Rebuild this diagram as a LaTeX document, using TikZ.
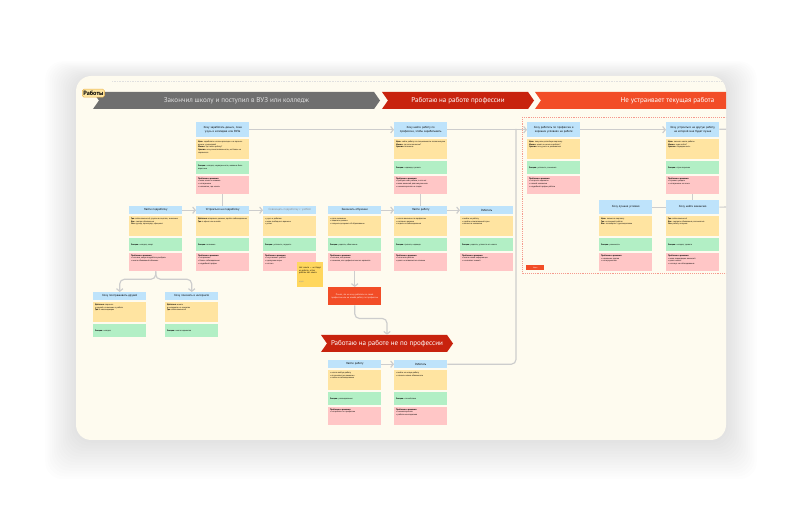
\documentclass[tikz,border=0pt]{standalone}
\usepackage{fontspec}
\setmainfont{PT Sans}
\usetikzlibrary{arrows.meta,positioning,shapes.symbols,calc}
\definecolor{jmCream}{HTML}{FEFBEF}
\definecolor{jmBlue}{HTML}{BEE3FB}
\definecolor{jmYellow}{HTML}{FFE4A1}
\definecolor{jmGreen}{HTML}{B2EFC5}
\definecolor{jmPink}{HTML}{FFC6C6}
\definecolor{jmLine}{HTML}{CDCDCD}
\definecolor{jmGray}{HTML}{6F6F6F}
\definecolor{jmRed}{HTML}{C8230E}
\definecolor{jmOrange}{HTML}{F24D27}
\definecolor{jmSticky}{HTML}{FFD75E}
\definecolor{jmTag}{HTML}{FFE7A3}
\definecolor{jmTagLine}{HTML}{E8B04A}
\definecolor{jmDash}{HTML}{F59A8E}
\tikzset{
  hdr/.style={fill=jmBlue, text width=42pt, inner xsep=1.6pt, inner ysep=0.6pt, align=center, font=\fontsize{2.5}{3}\selectfont},
  sec/.style={inner xsep=1.6pt, inner ysep=1.5pt, font=\fontsize{1.8}{2.3}\selectfont},
  ylw/.style={sec, fill=jmYellow},
  grn/.style={sec, fill=jmGreen},
  pnk/.style={sec, fill=jmPink},
  arr/.style={-{Straight Barb[length=2.2pt,width=5.5pt]}, line width=1pt, draw=jmLine},
  ln/.style={line width=1pt, draw=jmLine},
  bnr/.style={signal, signal from=west, signal to=east, signal pointer angle=110, minimum height=0.51cm, inner sep=0pt, font=\fontsize{6}{7}\selectfont, text=white},
}
% card: [header height]{id}{x,y}{title}{yellow}{green}{pink}
\newcommand{\jcard}[7][6.8pt]{%
  \node[hdr, minimum height=#1, anchor=north west] (#2-h) at (#3) {#4};
  \node[ylw, below=1.3pt of #2-h] (#2-y) {\parbox[c][14pt][t]{42pt}{\raggedright #5}};
  \node[grn, below=1.3pt of #2-y] (#2-g) {\parbox[c][8pt][c]{42pt}{\raggedright #6}};
  \if\relax\detokenize{#7}\relax\else
  \node[pnk, below=1.3pt of #2-g] (#2-p) {\parbox[c][12.4pt][t]{42pt}{\raggedright #7}};
  \fi}
\newcommand{\pr}{\textbf{Проблемы и решения:}\\}

\begin{document}
\begin{tikzpicture}[x=0.03cm, y=-0.03cm]
  \useasboundingbox (0,0) rectangle (800,515);
  \fill[white] (0,0) rectangle (800,515);
  % shadow and board
  \foreach \s in {1,...,14}
    \fill[black, opacity=0.008, rounded corners=15pt] (76-2.2*\s,78-1.2*\s) rectangle (726+2.2*\s,440+2.8*\s);
  \fill[jmCream, rounded corners=13pt] (76,76) rectangle (726,440);
  \begin{scope}
    \clip[rounded corners=13pt] (76,76) rectangle (726,440);
    \draw[black!12, densely dotted, line width=0.4pt] (112,81) -- (726,81);
    % stages
    \node[bnr, fill=jmGray, text=black!12, minimum width=8.61cm] (st1) at (236.5,100.5) {Закончил школу и поступил в ВУЗ или колледж};
    \node[bnr, fill=jmRed, minimum width=4.56cm] (st2) at (458,100.5) {Работаю на работе профессии};
    \node[bnr, fill=jmOrange, minimum width=7.95cm] (st3) at (667.5,100.5) {Не устраивает текущая работа};
    \node[bnr, fill=jmRed, minimum width=3.96cm] (st4) at (387,343.5) {Работаю на работе не по профессии};
    \node[fill=jmTag, draw=jmTagLine, line width=0.4pt, rounded corners=1.5pt, inner xsep=1pt, inner ysep=0.6pt, minimum height=6.8pt, font=\fontsize{5.3}{6}\selectfont\bfseries, anchor=north west] (tag) at (82,89) {Работы};
    % frame of ideas
    \draw[jmDash, densely dotted, line width=0.6pt] (522,117) rectangle (760,273);
    \node[fill=jmOrange, text=white, minimum width=0.54cm, minimum height=0.15cm, inner sep=0pt, font=\fontsize{1.6}{2}\selectfont, anchor=north west] (idea) at (526,265) {Идеи};

    % top row
    \jcard[12.8pt]{A}{196,122}{Хочу заработать деньги, пока учусь в колледже или ВУЗе}
      {\textbf{Цель:} заработать на свои расходы и не просить деньги у родителей\\ \textbf{Мысли:} где найти работу?\\ \textbf{Чувства:} хочу самостоятельности, но боюсь не справиться}
      {\textbf{Эмоции:} интерес, неуверенность, желание быть взрослым}
      {\pr \textbullet{} мало опыта и навыков\\ \textbullet{} нет времени\\ \textbullet{} непонятно, где искать}
    \jcard[12.8pt]{B}{394,122}{Хочу найти работу по профессии, чтобы зарабатывать}
      {\textbf{Цель:} найти работу по специальности после выпуска\\ \textbf{Мысли:} где есть вакансии?\\ \textbf{Чувства:} волнение}
      {\textbf{Эмоции:} надежда, тревога}
      {\pr \textbullet{} требуют опыт работы, а его нет\\ \textbullet{} мало вакансий для выпускников\\ \textbullet{} низкая зарплата на старте}
    \jcard[12.8pt]{C}{527,122}{Хочу работать по профессии в хороших условиях на работе}
      {\textbf{Цель:} получать достойную зарплату\\ \textbf{Мысли:} ценят ли меня на работе?\\ \textbf{Чувства:} хочу расти и развиваться}
      {\textbf{Эмоции:} усталость, сомнения}
      {\pr \textbullet{} нет роста зарплаты\\ \textbullet{} плохой коллектив\\ \textbullet{} неудобный график работы}
    \jcard[12.8pt]{D}{666,122}{Хочу устроиться на другую работу, на которой мне будет лучше}
      {\textbf{Цель:} сменить место работы\\ \textbf{Мысли:} куда пойти?\\ \textbf{Чувства:} неуверенность}
      {\textbf{Эмоции:} страх перемен}
      {\pr \textbullet{} страшно уходить\\ \textbullet{} нет времени на поиск}

    % middle row
    \jcard{E}{129,206}{Найти подработку}
      {\textbf{Где:} сайты вакансий, группы в соцсетях, знакомые\\ \textbf{Как:} смотрю объявления\\ \textbf{Что:} курьер, промоутер, официант}
      {\textbf{Эмоции:} интерес, азарт}
      {\pr \textbullet{} не знаю, какую подработку выбрать\\ \textbullet{} много объявлений-обманок}
    \jcard{F}{196,206}{Устроиться на подработку}
      {\textbf{Действия:} отправить резюме, пройти собеседование\\ \textbf{Где:} в офисе или онлайн}
      {\textbf{Эмоции:} волнение}
      {\pr \textbullet{} нет резюме\\ \textbullet{} боюсь собеседования\\ \textbullet{} неудобный график}
    \jcard{G}{263,206}{\textcolor{black!45}{Совмещать подработку с учёбой}}
      {\textbullet{} учусь и работаю\\ \textbullet{} мало свободного времени\\ \textbullet{} устаю}
      {\textbf{Эмоции:} усталость, гордость}
      {\pr \textbullet{} не успеваю с учёбой\\ \textbullet{} пропускаю пары\\ \textbullet{} нет сил}
    \jcard{H}{328,206}{Закончить обучение}
      {\textbullet{} сдать экзамены\\ \textbullet{} защитить диплом\\ \textbullet{} получить документ об образовании}
      {\textbf{Эмоции:} радость, облегчение}
      {\pr \textbullet{} не знаю, что дальше\\ \textbullet{} понимаю, что профессия мне не нравится}
    \jcard{I}{394,206}{Найти работу}
      {\textbullet{} искать вакансии по профессии\\ \textbullet{} составить резюме\\ \textbullet{} ходить на собеседования}
      {\textbf{Эмоции:} тревога, надежда}
      {\pr \textbullet{} нет опыта работы\\ \textbullet{} долго не отвечают на отклики}
    \jcard{J}{460,206}{Работать}
      {\textbullet{} выйти на работу\\ \textbullet{} пройти испытательный срок\\ \textbullet{} влиться в коллектив}
      {\textbf{Эмоции:} радость, усталость от нового}
      {\pr \textbullet{} много новой информации\\ \textbullet{} не хватает знаний}
    \jcard[12pt]{K}{599,200}{Хочу лучшие условия}
      {\textbf{Цель:} повысить зарплату\\ \textbf{Где:} на текущей работе\\ \textbf{Как:} поговорить с руководителем}
      {\textbf{Эмоции:} решимость}
      {\pr \textbullet{} начальник против\\ \textbullet{} нет аргументов}
    \jcard[12pt]{L}{666,200}{Хочу найти вакансию}
      {\textbf{Где:} сайты вакансий\\ \textbf{Как:} смотреть объявления, откликаться\\ \textbf{Что:} работу получше}
      {\textbf{Эмоции:} интерес, тревога}
      {\pr \textbullet{} мало подходящих вакансий\\ \textbullet{} долго искать\\ \textbullet{} не зовут на собеседования}

    % lower cards
    \jcard{N}{93,292}{Хочу поспрашивать друзей}
      {\textbf{Действия:} спросить\\ у друзей и знакомых о работе\\ \textbf{Где:} в мессенджерах}
      {\textbf{Эмоции:} интерес}{}
    \jcard{O}{165,292}{Хочу поискать в интернете}
      {\textbf{Действия:} искать\\ в интернете и в соцсетях\\ \textbf{Где:} сайты вакансий}
      {\textbf{Эмоции:} много вариантов}{}
    \jcard{R}{328,360}{Найти работу}
      {\textbullet{} искать любую работу\\ \textbullet{} откликаться на вакансии\\ \textbullet{} пойти на собеседование}
      {\textbf{Эмоции:} разочарование}
      {\pr \textbullet{} нет работы по профессии}
    \jcard{S}{394,360}{Работать}
      {\textbullet{} выйти на новую работу\\ \textbullet{} освоить новые обязанности}
      {\textbf{Эмоции:} спокойствие}
      {\pr \textbullet{} низкая зарплата\\ \textbullet{} работа неинтересная}

    \node[fill=jmSticky, anchor=north west, minimum width=0.75cm, minimum height=0.75cm, text width=19pt, inner sep=1.6pt, font=\fontsize{1.9}{2.4}\selectfont] (note) at (297,262)
      {Нет опыта~--- не берут на работу, а~без работы нет опыта\\[5pt] \textcolor{black!40}{идея}};
    \node[fill=jmOrange, text=white, anchor=north west, text width=42pt, inner xsep=1.6pt, minimum height=0.54cm, align=center, font=\fontsize{1.9}{2.4}\selectfont] (P) at (328,287)
      {Понял, что не хочу работать по своей профессии или не нашёл работу по профессии};

    % connectors
    \coordinate (dexit) at (740,129);
    \coordinate (lexit) at (740,207);
    \coordinate (mrg) at (516,129);
    \draw[arr] (A-h) -- (B-h);
    \draw[arr] (B-h) -- (C-h);
    \draw[arr] (C-h) -- (D-h);
    \draw[ln] (D-h) -- (dexit);
    \draw[ln] (A-p) -- (F-h);
    \draw[ln] (B-p) -- (I-h);
    \draw[ln] (D-p) -- (L-h);
    \draw[arr] (E-h) -- (F-h);
    \draw[arr] (F-h) -- (G-h);
    \draw[arr] (H-h) -- (I-h);
    \draw[arr] (I-h) -- (J-h);
    \draw[ln] (K-h) -- (L-h);
    \draw[ln] (L-h) -- (lexit);
    \draw[arr, rounded corners=4pt] (E-p.south) -- ++(0,8) -| (N-h.north);
    \draw[arr, rounded corners=4pt] (E-p.south) -- ++(0,8) -| (O-h.north);
    \draw[arr] (H-p) -- (P);
    \draw[arr, rounded corners=4pt] (P.south) -- ++(0,13) -| (st4.north);
    \draw[arr] (R-h) -- (S-h);
    \draw[ln, rounded corners=4pt] (S-h.east) -| (mrg);
  \end{scope}
\end{tikzpicture}
\end{document}
